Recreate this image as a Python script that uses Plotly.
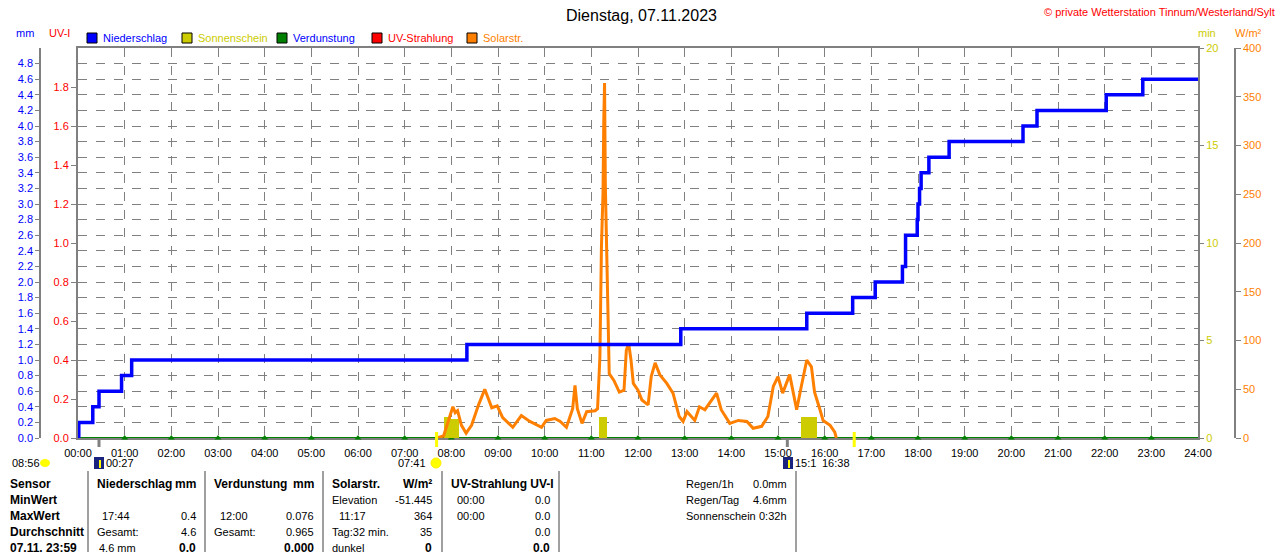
import plotly.graph_objects as go

W, H = 1280, 552

# Niederschlag, cumulative mm (step line)
rain_time = ["00:00", "00:01", "00:19", "00:27", "00:56", "01:09", "08:20", "12:55",
             "15:37", "16:36", "17:05", "17:40", "17:44", "17:59", "18:00", "18:02",
             "18:04", "18:14", "18:40", "20:15", "20:33", "22:02", "22:49", "24:00"]
rain_mm = [0.0, 0.2, 0.4, 0.6, 0.8, 1.0, 1.2, 1.4,
           1.6, 1.8, 2.0, 2.2, 2.6, 2.8, 3.0, 3.2,
           3.4, 3.6, 3.8, 4.0, 4.2, 4.4, 4.6, 4.6]

# Solarstrahlung W/m2
solar_time = ["07:41", "07:50", "07:58", "08:02", "08:05", "08:08", "08:13", "08:19", "08:26",
              "08:35", "08:43", "08:52", "08:59", "09:06", "09:19", "09:30", "09:41", "09:56",
              "10:02", "10:13", "10:20", "10:28", "10:36", "10:39", "10:42", "10:48", "10:54",
              "11:05", "11:08", "11:11", "11:13", "11:15", "11:16", "11:17", "11:18", "11:20",
              "11:22", "11:23", "11:29", "11:36", "11:42", "11:45", "11:48", "11:51", "11:54",
              "12:00", "12:05", "12:13", "12:17", "12:22", "12:28", "12:37", "12:45", "12:53",
              "12:58", "13:03", "13:13", "13:19", "13:26", "13:41", "13:47", "13:58", "14:09",
              "14:20", "14:28", "14:39", "14:47", "14:54", "15:00", "15:06", "15:15", "15:24",
              "15:30", "15:37", "15:43", "15:47", "15:54", "15:58", "16:07", "16:13", "16:15"]
solar_wm2 = [0, 2, 22, 32, 26, 28, 13, 5, 13,
             34, 50, 31, 33, 21, 11, 23, 17, 11,
             18, 20, 17, 11, 30, 54, 30, 15, 27,
             28, 30, 83, 196, 251, 326, 364, 260, 193,
             108, 66, 59, 47, 49, 90, 97, 80, 56,
             49, 39, 34, 63, 77, 65, 56, 46, 22,
             17, 27, 18, 32, 29, 46, 29, 15, 18,
             17, 10, 12, 22, 53, 63, 46, 65, 29,
             53, 80, 73, 47, 29, 18, 13, 6, 0]

# Sonnenschein, minutes per 10-minute slot
sun_slot = ["07:50", "08:00", "11:10", "15:30", "15:40"]
sun_min = [1.1, 1.0, 1.1, 1.1, 1.1]

# Verdunstung (hourly markers) and UV-Strahlung (all zero today)
evap_time = ["%02d:00" % h for h in range(1, 24)]
evap_mm = [0.0] * len(evap_time)
uv_time = ["00:00", "24:00"]
uv_val = [0.0, 0.0]

hour_labels = ["%02d:00" % h for h in range(25)]
mm_ticks = [round(0.2 * i, 1) for i in range(25)]
uv_ticks = [round(0.2 * i, 1) for i in range(10)]
min_ticks = [0, 5, 10, 15, 20]
wm2_ticks = [0, 50, 100, 150, 200, 250, 300, 350, 400]


def hrs(t):
    h, m = t.split(":")
    return int(h) + int(m) / 60


def px(x):
    return x / W


def py(y):
    return 1 - y / H


FONT = "Liberation Sans"
BLUE = "#0000FF"
RED = "#FF0000"
YEL = "#CCCC00"
GREEN = "#008000"
ORANGE = "#FF8000"
GREY = "#808080"
DOM_Y = [py(438), py(48)]

fig = go.Figure()

# every axis needs a trace, otherwise plotly drops it
fig.add_trace(go.Scatter(
    x=[hrs(t) for t in uv_time], y=uv_val, mode="lines",
    line=dict(color=RED, width=2), yaxis="y", cliponaxis=False))

fig.add_trace(go.Scatter(
    x=[hrs(t) for t in uv_time], y=[v for v in uv_val], mode="lines",
    line=dict(color=GREEN, width=2), yaxis="y2", cliponaxis=False))
fig.add_trace(go.Scatter(
    x=[hrs(t) for t in evap_time], y=evap_mm, mode="markers",
    marker=dict(symbol="triangle-up", size=6, color=GREEN),
    yaxis="y2", cliponaxis=False))

fig.add_trace(go.Bar(
    x=[hrs(t) for t in sun_slot], y=sun_min, width=10 / 60, offset=0,
    marker=dict(color=YEL, line=dict(width=0)), yaxis="y3"))

fig.add_trace(go.Scatter(
    x=[hrs(t) for t in solar_time], y=solar_wm2, mode="lines",
    line=dict(color=ORANGE, width=3), yaxis="y4"))

fig.add_trace(go.Scatter(
    x=[hrs(t) for t in rain_time], y=rain_mm, mode="lines", line_shape="hv",
    line=dict(color=BLUE, width=3.5), yaxis="y5"))

fig.update_layout(
    width=W, height=H,
    margin=dict(l=0, r=0, t=0, b=0, autoexpand=False),
    paper_bgcolor="white", plot_bgcolor="white",
    showlegend=False, bargap=0,
    font=dict(family=FONT, size=11, color="black"),
    xaxis=dict(
        domain=[px(78), px(1198)], range=[0, 24], anchor="y",
        tickvals=list(range(25)), ticktext=hour_labels,
        showgrid=True, griddash="dash", gridcolor=GREY, gridwidth=1,
        showline=True, linecolor=GREY, linewidth=2, mirror=True, layer="below traces",
        ticks="", ticklabelstandoff=4, zeroline=False,
        tickfont=dict(family=FONT, size=11, color="black"),
    ),
    # UV-I (base axis, on the plot's left border)
    yaxis=dict(
        domain=DOM_Y, anchor="x", side="left", range=[0, 2],
        tickvals=uv_ticks, ticktext=["%.1f" % v for v in uv_ticks],
        tickfont=dict(family=FONT, size=11, color=RED),
        showgrid=False, showline=True, linecolor=GREY, linewidth=2,
        ticks="outside", ticklen=5, tickcolor=GREY, zeroline=False,
    ),
    # mm (free axis at far left, carries the horizontal grid)
    yaxis2=dict(
        overlaying="y", anchor="free", position=px(40), side="left",
        range=[0, 5], tickvals=mm_ticks, ticktext=["%.1f" % v for v in mm_ticks],
        tickfont=dict(family=FONT, size=11, color=BLUE),
        showgrid=True, griddash="dash", gridcolor=GREY, gridwidth=1,
        showline=True, linecolor=GREY, linewidth=1.5,
        ticks="outside", ticklen=4, tickcolor=GREY, zeroline=False,
    ),
    yaxis3=dict(
        overlaying="y", anchor="x", side="right", range=[0, 20],
        tickvals=min_ticks, tickfont=dict(family=FONT, size=11, color=YEL),
        showgrid=False, showline=True, linecolor=GREY, linewidth=2,
        ticks="outside", ticklen=4, tickcolor=GREY, zeroline=False,
    ),
    yaxis4=dict(
        overlaying="y", anchor="free", position=px(1235), side="right",
        range=[0, 400], tickvals=wm2_ticks, tickfont=dict(family=FONT, size=11, color=ORANGE),
        showgrid=False, showline=True, linecolor=GREY, linewidth=1.5,
        ticks="outside", ticklen=5, tickcolor=GREY, zeroline=False,
    ),
    yaxis5=dict(overlaying="y", anchor="x", range=[0, 5], visible=False),
)

ann = []
shapes = []


def text(x, y, s, color="black", anchor="left", size=11, bold=False):
    ann.append(dict(
        x=px(x), y=py(y), xref="paper", yref="paper", text="<b>%s</b>" % s if bold else s,
        showarrow=False, xanchor=anchor, yanchor="middle",
        font=dict(family=FONT, size=size, color=color)))


# header
text(641, 15, "Dienstag, 07.11.2023", size=16, anchor="center")
text(1277, 12, "© private Wetterstation Tinnum/Westerland/Sylt", color=RED, anchor="right")
text(14, 33, "mm", color=BLUE)
text(47, 33, "UV-I", color=RED)
text(1196, 33, "min", color=YEL)
text(1233, 33, "W/m²", color=ORANGE)

legend = [(87, "Niederschlag", BLUE, BLUE), (182, "Sonnenschein", YEL, YEL),
          (277, "Verdunstung", GREEN, BLUE), (372, "UV-Strahlung", RED, RED),
          (467, "Solarstr.", ORANGE, ORANGE)]
for x0, name, fill, tcol in legend:
    shapes.append(dict(type="rect", xref="paper", yref="paper",
                       x0=px(x0), x1=px(x0 + 10), y0=py(43), y1=py(33),
                       fillcolor=fill, line=dict(color="black", width=1)))
    text(x0 + 14, 38, name, color=tcol)

# sunrise/sunset, moon markers under the axis
for t, col, y0 in [("00:27", GREY, 438), ("15:12", GREY, 438),
                   ("07:41", "#FFFF00", 432), ("16:38", "#FFFF00", 432)]:
    shapes.append(dict(type="line", xref="x", yref="paper", x0=hrs(t), x1=hrs(t),
                       y0=py(y0), y1=py(447), line=dict(color=col, width=3)))
text(10, 463, "08:56")
shapes.append(dict(type="circle", xref="paper", yref="paper", x0=px(40), x1=px(50),
                   y0=py(467), y1=py(459), fillcolor="#FFFF00", line=dict(width=0)))
for x0 in [94, 783]:
    shapes.append(dict(type="rect", xref="paper", yref="paper", x0=px(x0), x1=px(x0 + 10),
                       y0=py(469), y1=py(457), fillcolor="#1A237E", line=dict(width=0)))
    shapes.append(dict(type="line", xref="paper", yref="paper", x0=px(x0 + 6), x1=px(x0 + 6),
                       y0=py(468), y1=py(460), line=dict(color="#FFFF00", width=2)))
text(104, 463, "00:27")
text(428, 463, "07:41", anchor="right")
shapes.append(dict(type="circle", xref="paper", yref="paper", x0=px(431), x1=px(441),
                   y0=py(468), y1=py(458), fillcolor="#FFFF00", line=dict(color="#FFEE00", width=1)))
text(793, 463, "15:1")
text(820, 463, "16:38")

# table
for x in [88, 205, 323, 442, 559, 796]:
    shapes.append(dict(type="line", xref="paper", yref="paper", x0=px(x), x1=px(x),
                       y0=py(471), y1=py(552), line=dict(color="#A0A0A0", width=2)))

rows = [484, 500, 516, 532, 548]
cells = [
    (8, 0, "Sensor", "left", True), (8, 1, "MinWert", "left", True),
    (8, 2, "MaxWert", "left", True), (8, 3, "Durchschnitt", "left", True),
    (8, 4, "07.11. 23:59", "left", True),
    (95, 0, "Niederschlag", "left", True), (198, 0, "mm", "right", True),
    (100, 2, "17:44", "left", False), (198, 2, "0.4", "right", False),
    (95, 3, "Gesamt:", "left", False), (198, 3, "4.6", "right", False),
    (97, 4, "4.6 mm", "left", False), (198, 4, "0.0", "right", True),
    (212, 0, "Verdunstung", "left", True), (316, 0, "mm", "right", True),
    (218, 2, "12:00", "left", False), (316, 2, "0.076", "right", False),
    (212, 3, "Gesamt:", "left", False), (316, 3, "0.965", "right", False),
    (316, 4, "0.000", "right", True),
    (330, 0, "Solarstr.", "left", True), (434, 0, "W/m²", "right", True),
    (330, 1, "Elevation", "left", False), (434, 1, "-51.445", "right", False),
    (337, 2, "11:17", "left", False), (434, 2, "364", "right", False),
    (330, 3, "Tag:32 min.", "left", False), (434, 3, "35", "right", False),
    (330, 4, "dunkel", "left", False), (434, 4, "0", "right", True),
    (449, 0, "UV-Strahlung UV-I", "left", True),
    (455, 1, "00:00", "left", False), (552, 1, "0.0", "right", False),
    (455, 2, "00:00", "left", False), (552, 2, "0.0", "right", False),
    (552, 3, "0.0", "right", False), (552, 4, "0.0", "right", True),
    (684, 0, "Regen/1h", "left", False), (789, 0, "0.0mm", "right", False),
    (684, 1, "Regen/Tag", "left", False), (789, 1, "4.6mm", "right", False),
    (684, 2, "Sonnenschein", "left", False), (789, 2, "0:32h", "right", False),
]
for x, r, s, a, b in cells:
    text(x, rows[r], s, anchor=a, bold=b, size=12 if b else 11)

fig.update_layout(annotations=ann, shapes=shapes)
fig.write_html("out.html", config={"displayModeBar": False},
               post_script="document.body.style.margin='0';")
